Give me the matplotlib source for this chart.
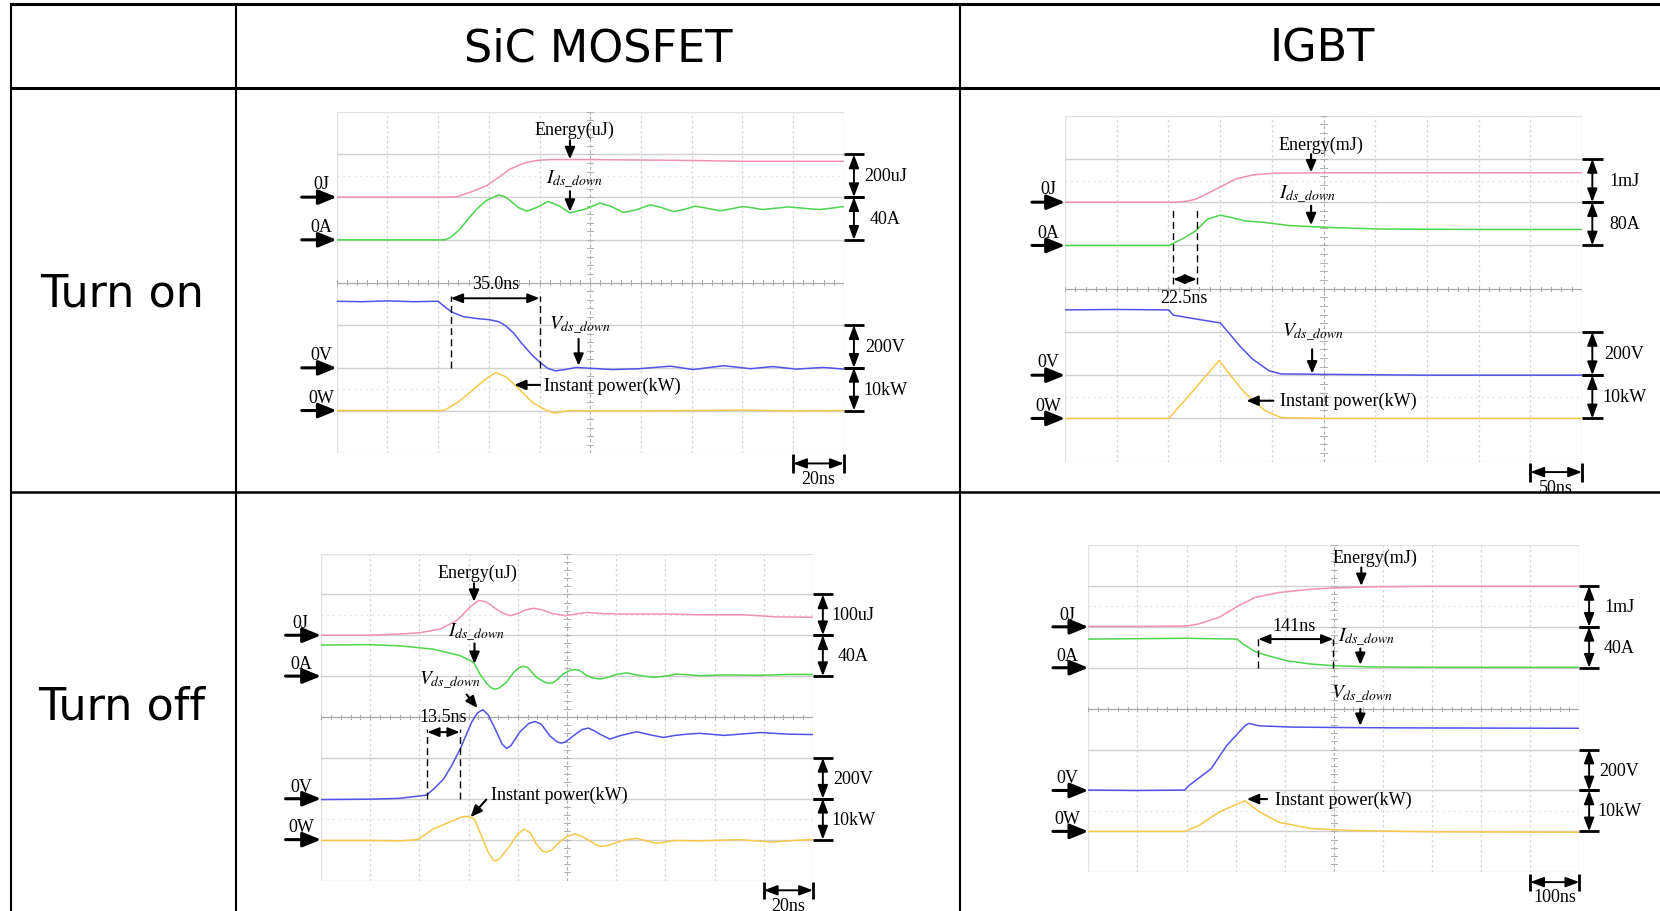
import matplotlib
matplotlib.use('Agg')
import matplotlib.pyplot as plt
import numpy as np

plt.rcParams['mathtext.fontset'] = 'stix'
plt.rcParams['font.family'] = ['Liberation Serif', 'DejaVu Serif']

W, H = 1660, 912
fig = plt.figure(figsize=(16.6, 9.12), dpi=100)

# ---------------- table text ----------------
col_titles = ['SiC MOSFET', 'IGBT']
row_titles = ['Turn on', 'Turn off']

# ---------------- waveform data (x in divisions, y in divisions) -------------
# Panel 1: SiC MOSFET turn-on
p1_energy_x = [0, 1.0, 2.1, 2.37, 2.6, 2.96, 3.2, 3.42, 3.7, 3.95, 4.2, 5.0, 6.0, 7.0, 8.0, 9.0, 10]
p1_energy_y = [6.0, 6.0, 6.0, 6.01, 6.1, 6.27, 6.47, 6.66, 6.8, 6.86, 6.88, 6.88, 6.87, 6.86, 6.84, 6.84, 6.84]
p1_cur_x = [0, 1.0, 2.14, 2.25, 2.43, 2.6, 2.76, 2.95, 3.19, 3.3, 3.42, 3.58, 3.75, 3.95, 4.17, 4.38,
            4.6, 4.9, 5.19, 5.42, 5.65, 5.9, 6.18, 6.4, 6.64, 6.85, 7.07, 7.3, 7.56, 7.8, 8.0, 8.2,
            8.39, 8.65, 8.91, 9.2, 9.52, 9.75, 10]
p1_cur_y = [5.0, 5.0, 5.0, 5.06, 5.25, 5.5, 5.72, 5.92, 6.05, 6.02, 5.92, 5.76, 5.67, 5.76, 5.9, 5.8,
            5.63, 5.72, 5.86, 5.78, 5.64, 5.7, 5.82, 5.76, 5.66, 5.71, 5.79, 5.74, 5.68, 5.73, 5.78, 5.75,
            5.71, 5.74, 5.77, 5.74, 5.71, 5.74, 5.78]
p1_volt_x = [0, 0.5, 1.0, 1.5, 2.0, 2.1, 2.28, 2.5, 2.8, 3.0, 3.2, 3.33, 3.5, 3.63, 3.86, 4.01, 4.16,
             4.31, 4.5, 4.73, 5.0, 5.44, 5.97, 6.58, 7.03, 7.63, 8.16, 8.6, 9.06, 9.6, 10]
p1_volt_y = [3.56, 3.55, 3.57, 3.55, 3.56, 3.46, 3.30, 3.2, 3.15, 3.13, 3.08, 2.99, 2.8, 2.6, 2.29, 2.13,
             1.99, 1.93, 1.96, 2.01, 1.99, 1.96, 1.98, 2.04, 1.96, 2.05, 1.98, 2.03, 1.97, 2.01, 1.97]
p1_pow_x = [0, 1.0, 2.0, 2.13, 2.4, 2.7, 2.95, 3.14, 3.35, 3.6, 3.85, 4.09, 4.28, 4.6, 5.0, 6.0, 7.0, 8.0, 9.0, 10]
p1_pow_y = [1.0, 1.0, 1.0, 1.01, 1.2, 1.5, 1.75, 1.89, 1.78, 1.5, 1.2, 1.03, 0.94, 1.0, 0.99, 0.99, 1.0, 1.01, 0.99, 1.0]

# Panel 2: IGBT turn-on
p2_energy_x = [0, 1.0, 2.13, 2.35, 2.53, 2.92, 3.31, 3.63, 4.03, 5.0, 6.0, 8.0, 10]
p2_energy_y = [6.0, 6.0, 6.0, 6.02, 6.07, 6.3, 6.54, 6.63, 6.67, 6.68, 6.68, 6.68, 6.68]
p2_cur_x = [0, 1.0, 2.01, 2.3, 2.53, 2.76, 3.0, 3.2, 3.47, 3.87, 4.34, 5.01, 6.08, 8.0, 10]
p2_cur_y = [5.0, 5.0, 5.0, 5.17, 5.34, 5.61, 5.70, 5.65, 5.57, 5.53, 5.46, 5.42, 5.38, 5.37, 5.37]
p2_volt_x = [0, 1.0, 2.01, 2.09, 2.53, 3.0, 3.16, 3.4, 3.63, 3.95, 4.18, 5.0, 7.0, 10]
p2_volt_y = [3.51, 3.52, 3.51, 3.39, 3.30, 3.21, 2.99, 2.65, 2.37, 2.10, 2.03, 2.02, 2.0, 2.0]
p2_pow_x = [0, 1.0, 2.01, 2.5, 2.98, 3.2, 3.47, 3.87, 4.18, 5.0, 7.0, 10]
p2_pow_y = [1.0, 1.0, 1.0, 1.67, 2.34, 2.0, 1.6, 1.18, 1.02, 1.0, 1.0, 1.0]

# Panel 3: SiC MOSFET turn-off
p3_energy_x = [0, 1.0, 1.6, 2.0, 2.42, 2.76, 3.03, 3.2, 3.35, 3.55, 3.7, 3.84, 4.0, 4.15, 4.32, 4.5,
               4.7, 4.96, 5.2, 5.4, 5.7, 6.01, 7.0, 7.7, 8.6, 9.25, 10]
p3_energy_y = [6.0, 6.0, 6.03, 6.06, 6.15, 6.36, 6.69, 6.85, 6.82, 6.65, 6.54, 6.48, 6.53, 6.62, 6.66, 6.62,
               6.53, 6.48, 6.52, 6.56, 6.53, 6.52, 6.52, 6.5, 6.5, 6.45, 6.44]
p3_cur_x = [0, 1.0, 1.6, 2.28, 2.83, 3.1, 3.23, 3.38, 3.48, 3.54, 3.62, 3.77, 3.92, 4.03, 4.11, 4.2,
            4.38, 4.55, 4.64, 4.69, 4.76, 4.92, 5.06, 5.16, 5.26, 5.4, 5.55, 5.67, 5.8, 6.0, 6.21,
            6.45, 6.75, 7.0, 7.23, 7.5, 7.7, 8.2, 8.9, 9.5, 10]
p3_cur_y = [5.76, 5.77, 5.74, 5.66, 5.5, 5.34, 5.05, 4.8, 4.7, 4.68, 4.71, 4.85, 5.1, 5.21, 5.24, 5.21,
            4.97, 4.85, 4.83, 4.83, 4.87, 5.05, 5.14, 5.16, 5.14, 5.01, 4.95, 4.93, 4.96, 5.04, 5.08,
            5.02, 4.97, 5.0, 5.05, 5.03, 5.01, 5.03, 5.02, 5.04, 5.04]
p3_volt_x = [0, 1.0, 1.6, 2.15, 2.3, 2.49, 2.66, 2.83, 3.06, 3.18, 3.29, 3.4, 3.57, 3.68, 3.77, 3.86,
             4.04, 4.22, 4.35, 4.48, 4.65, 4.8, 4.89, 4.98, 5.13, 5.3, 5.43, 5.56, 5.67, 5.87, 6.1,
             6.42, 6.7, 6.96, 7.2, 7.43, 7.7, 8.2, 8.93, 9.5, 10]
p3_volt_y = [1.98, 1.99, 2.01, 2.09, 2.25, 2.48, 2.82, 3.22, 3.87, 4.1, 4.18, 4.05, 3.63, 3.34, 3.23, 3.3,
             3.63, 3.84, 3.89, 3.82, 3.54, 3.39, 3.36, 3.4, 3.54, 3.69, 3.73, 3.66, 3.58, 3.46, 3.55,
             3.64, 3.56, 3.5, 3.55, 3.58, 3.6, 3.55, 3.62, 3.58, 3.57]
p3_pow_x = [0, 1.0, 1.6, 1.97, 2.28, 2.6, 2.85, 2.99, 3.12, 3.23, 3.4, 3.5, 3.56, 3.64, 3.84, 4.0,
            4.13, 4.26, 4.38, 4.5, 4.58, 4.68, 4.86, 5.0, 5.16, 5.3, 5.47, 5.6, 5.7, 5.85, 6.01,
            6.2, 6.42, 6.62, 6.82, 7.2, 7.7, 8.5, 9.17, 9.6, 10]
p3_pow_y = [0.98, 0.98, 0.97, 1.0, 1.26, 1.42, 1.55, 1.57, 1.5, 1.18, 0.69, 0.5, 0.48, 0.55, 0.85, 1.14,
            1.26, 1.16, 0.89, 0.72, 0.69, 0.74, 0.95, 1.08, 1.14, 1.08, 0.97, 0.87, 0.83, 0.86, 0.93,
            1.0, 1.03, 0.97, 0.91, 0.98, 0.97, 1.0, 0.94, 0.98, 1.0]

# Panel 4: IGBT turn-off
p4_energy_x = [0, 1.0, 2.0, 2.25, 2.66, 3.07, 3.4, 3.89, 4.54, 5.0, 5.85, 7.0, 10]
p4_energy_y = [6.01, 6.01, 6.02, 6.07, 6.23, 6.52, 6.72, 6.84, 6.92, 6.95, 6.98, 6.99, 6.99]
p4_cur_x = [0, 1.0, 2.0, 3.03, 3.15, 3.4, 3.64, 4.05, 4.54, 5.0, 5.77, 7.0, 10]
p4_cur_y = [5.70, 5.71, 5.72, 5.70, 5.58, 5.39, 5.30, 5.17, 5.09, 5.05, 5.02, 5.01, 5.01]
p4_volt_x = [0, 1.0, 1.96, 2.05, 2.5, 2.82, 3.19, 3.27, 3.48, 4.13, 5.0, 6.3, 10]
p4_volt_y = [2.01, 2.0, 2.01, 2.12, 2.53, 3.1, 3.58, 3.64, 3.58, 3.55, 3.54, 3.53, 3.52]
p4_pow_x = [0, 1.0, 1.96, 2.25, 2.66, 3.19, 3.48, 3.89, 4.54, 5.36, 7.0, 10]
p4_pow_y = [1.0, 1.0, 1.0, 1.14, 1.47, 1.75, 1.48, 1.22, 1.07, 1.02, 0.99, 0.98]

# scale labels per panel (energy, current, voltage, power) and time base
p1_scales = ['200uJ', '40A', '200V', '10kW']
p2_scales = ['1mJ', '80A', '200V', '10kW']
p3_scales = ['100uJ', '40A', '200V', '10kW']
p4_scales = ['1mJ', '40A', '200V', '10kW']
time_bases = ['20ns', '50ns', '20ns', '100ns']
zero_labels = ['0J', '0A', '0V', '0W']
zero_levels = [6, 5, 2, 1]
meas_labels = ['35.0ns', '22.5ns', '13.5ns', '141ns']

PINK = '#f392ad'
GREEN = '#4cd64c'
BLUE = '#5252ec'
YEL = '#f6c84a'
FS = 13

# ---------------- background table ----------------
bg = fig.add_axes([0, 0, 1, 1])
bg.set_xlim(0, W)
bg.set_ylim(H, 0)
bg.axis('off')
bg.set_zorder(10)
bg.patch.set_visible(False)
bg.plot([11, W], [5, 5], color='k', lw=2.2, solid_capstyle='butt')
bg.plot([11, W], [89, 89], color='k', lw=2.2, solid_capstyle='butt')
bg.plot([11, W], [493, 493], color='k', lw=1.8, solid_capstyle='butt')
for xv in [11, 236, 960]:
    bg.plot([xv, xv], [4, H], color='k', lw=1.5, solid_capstyle='butt')
HF = dict(fontsize=32, family=['DejaVu Sans'], ha='center', va='center')
bg.text(598, 49, col_titles[0], **HF)
bg.text(1322, 49, col_titles[1], **HF)
bg.text(122, 294, row_titles[0], **HF)
bg.text(122, 707, row_titles[1], **HF)


def make_ax(l, r, t, b):
    ax = fig.add_axes([l / W, 1 - b / H, (r - l) / W, (b - t) / H])
    ax.set_xlim(0, 10)
    ax.set_ylim(0, 8)
    ax.axis('off')
    return ax


def draw_grid(ax):
    for i in range(11):
        if i in (0, 10):
            ax.plot([i, i], [0, 8], color='#e2e2e2', lw=1.0)
        elif i != 5:
            ax.plot([i, i], [0, 8], color='#d6d6d6', lw=0.9, dashes=(2, 2))
    for j in range(9):
        if j in (0, 8):
            ax.plot([0, 10], [j, j], color='#e2e2e2', lw=1.0)
        elif j != 4:
            ax.plot([0, 10], [j, j], color='#cfcfcf', lw=1.0)
    for yy in (6.5, 1.5):
        ax.plot([0, 10], [yy, yy], color='#e4e4e4', lw=0.9, dashes=(1.5, 3))
    ax.plot([5, 5], [0, 8], color='#b0b0b0', lw=0.8, dashes=(3, 2))
    ax.plot([0, 10], [4, 4], color='#a8a8a8', lw=0.9)
    for t in np.arange(0, 10.01, 0.2):
        ax.plot([t, t], [3.95, 4.05], color='#a8a8a8', lw=0.7)
    for t in np.arange(0, 8.01, 0.2):
        ax.plot([4.94, 5.06], [t, t], color='#b0b0b0', lw=0.7)


def arrow(ax, xy, xytext, lw=1.5, hl=0.7, hw=0.3, style='-|>'):
    ax.annotate('', xy=xy, xytext=xytext, annotation_clip=False,
                arrowprops=dict(arrowstyle=f'{style},head_length={hl},head_width={hw}',
                                lw=lw, color='k', shrinkA=0, shrinkB=0))


def decorate(ax, scales, tbase, tail, lab_dx, lab_dy=0.31):
    for lvl, lab in zip(zero_levels, zero_labels):
        arrow(ax, (0, lvl), (tail, lvl), lw=2.2, hl=1.1, hw=0.45)
        ax.text(lab_dx, lvl + lab_dy, lab, fontsize=FS, ha='center', va='center')
    spans = [(6, 7), (5, 6), (2, 3), (1, 2)]
    for (y0, y1), lab in zip(spans, scales):
        for yy in (y0, y1):
            ax.plot([10, 10.4], [yy, yy], color='k', lw=2, clip_on=False, solid_capstyle='butt')
        arrow(ax, (10.2, y1), (10.2, y0), lw=1.4, hl=0.8, hw=0.3, style='<|-|>')
        ax.text(10.82, (y0 + y1) / 2, lab, fontsize=FS, ha='center', va='center')
    for xx in (9, 10):
        ax.plot([xx, xx], [-0.03, -0.46], color='k', lw=2, clip_on=False, solid_capstyle='butt')
    arrow(ax, (10, -0.24), (9, -0.24), lw=1.4, hl=0.8, hw=0.3, style='<|-|>')
    ax.text(9.5, -0.6, tbase, fontsize=FS, ha='center', va='center')


def traces(ax, ex, ey, cx, cy, vx, vy, px, py):
    kw = dict(lw=1.1, solid_joinstyle='round')
    ax.plot(ex, ey, color=PINK, **kw)
    ax.plot(cx, cy, color=GREEN, **kw)
    ax.plot(vx, vy, color=BLUE, **kw)
    ax.plot(px, py, color=YEL, **kw)


def measure(ax, xa, xb, ytop, ybot, ya, label, lx, ly):
    for xx in (xa, xb):
        ax.plot([xx, xx], [ybot, ytop], color='k', lw=1.0, dashes=(5, 3))
    arrow(ax, (xb, ya), (xa, ya), lw=1.4, hl=0.7, hw=0.28, style='<|-|>')
    ax.text(lx, ly, label, fontsize=FS, ha='center', va='center')


I_LAB = r'$I_{ds\_down}$'
V_LAB = r'$V_{ds\_down}$'

# ---------------- Panel 1 ----------------
ax1 = make_ax(336.7, 843.8, 112.8, 454.2)
draw_grid(ax1)
traces(ax1, p1_energy_x, p1_energy_y, p1_cur_x, p1_cur_y, p1_volt_x, p1_volt_y, p1_pow_x, p1_pow_y)
decorate(ax1, p1_scales, time_bases[0], -0.69, -0.31)
ax1.text(4.68, 7.59, 'Energy(uJ)', fontsize=FS, ha='center', va='center')
arrow(ax1, (4.6, 6.89), (4.6, 7.33))
ax1.text(4.68, 6.42, I_LAB, fontsize=FS + 1, ha='center', va='center')
arrow(ax1, (4.6, 5.66), (4.6, 6.14))
measure(ax1, 2.25, 4.0, 3.69, 2.0, 3.63, meas_labels[0], 3.14, 3.98)
ax1.text(4.8, 3.0, V_LAB, fontsize=FS + 1, ha='center', va='center')
arrow(ax1, (4.77, 2.05), (4.77, 2.68))
ax1.text(4.09, 1.6, 'Instant power(kW)', fontsize=FS, ha='left', va='center')
arrow(ax1, (3.5, 1.6), (4.01, 1.6))

# ---------------- Panel 2 ----------------
ax2 = make_ax(1065, 1582, 116.7, 462.7)
draw_grid(ax2)
traces(ax2, p2_energy_x, p2_energy_y, p2_cur_x, p2_cur_y, p2_volt_x, p2_volt_y, p2_pow_x, p2_pow_y)
decorate(ax2, p2_scales, time_bases[1], -0.64, -0.33)
ax2.text(4.96, 7.34, 'Energy(mJ)', fontsize=FS, ha='center', va='center')
arrow(ax2, (4.76, 6.69), (4.76, 7.11))
ax2.text(4.68, 6.2, I_LAB, fontsize=FS + 1, ha='center', va='center')
arrow(ax2, (4.76, 5.47), (4.76, 5.92))
measure(ax2, 2.09, 2.55, 5.84, 4.1, 4.22, meas_labels[1], 2.31, 3.8)
ax2.text(4.8, 2.99, V_LAB, fontsize=FS + 1, ha='center', va='center')
arrow(ax2, (4.78, 2.04), (4.78, 2.6))
ax2.text(4.16, 1.41, 'Instant power(kW)', fontsize=FS, ha='left', va='center')
arrow(ax2, (3.51, 1.41), (4.03, 1.41))

# ---------------- Panel 3 ----------------
ax3 = make_ax(321, 813, 554.5, 881.5)
draw_grid(ax3)
traces(ax3, p3_energy_x, p3_energy_y, p3_cur_x, p3_cur_y, p3_volt_x, p3_volt_y, p3_pow_x, p3_pow_y)
decorate(ax3, p3_scales, time_bases[2], -0.72, -0.41)
ax3.text(3.18, 7.55, 'Energy(uJ)', fontsize=FS, ha='center', va='center')
arrow(ax3, (3.11, 6.82), (3.11, 7.27))
ax3.text(3.16, 6.08, I_LAB, fontsize=FS + 1, ha='center', va='center')
arrow(ax3, (3.12, 5.3), (3.12, 5.8))
ax3.text(2.63, 4.9, V_LAB, fontsize=FS + 1, ha='center', va='center')
arrow(ax3, (3.18, 4.22), (2.96, 4.55))
measure(ax3, 2.16, 2.82, 3.71, 2.0, 3.63, meas_labels[2], 2.48, 4.0)
ax3.text(3.46, 2.12, 'Instant power(kW)', fontsize=FS, ha='left', va='center')
arrow(ax3, (3.04, 1.55), (3.36, 1.98))

# ---------------- Panel 4 ----------------
ax4 = make_ax(1088.3, 1579.3, 546, 873.3)
draw_grid(ax4)
traces(ax4, p4_energy_x, p4_energy_y, p4_cur_x, p4_cur_y, p4_volt_x, p4_volt_y, p4_pow_x, p4_pow_y)
decorate(ax4, p4_scales, time_bases[3], -0.72, -0.43)
ax4.text(5.83, 7.7, 'Energy(mJ)', fontsize=FS, ha='center', va='center')
arrow(ax4, (5.56, 7.0), (5.56, 7.45))
ax4.text(5.67, 5.74, I_LAB, fontsize=FS + 1, ha='center', va='center')
arrow(ax4, (5.54, 5.07), (5.54, 5.47))
ax4.text(5.58, 4.36, V_LAB, fontsize=FS + 1, ha='center', va='center')
arrow(ax4, (5.54, 3.58), (5.54, 3.99))
measure(ax4, 3.46, 4.99, 5.8, 5.0, 5.70, meas_labels[3], 4.2, 6.04)
ax4.text(3.8, 1.79, 'Instant power(kW)', fontsize=FS, ha='left', va='center')
arrow(ax4, (3.23, 1.79), (3.64, 1.79))

fig.savefig('out.png', dpi=100, facecolor='white')
